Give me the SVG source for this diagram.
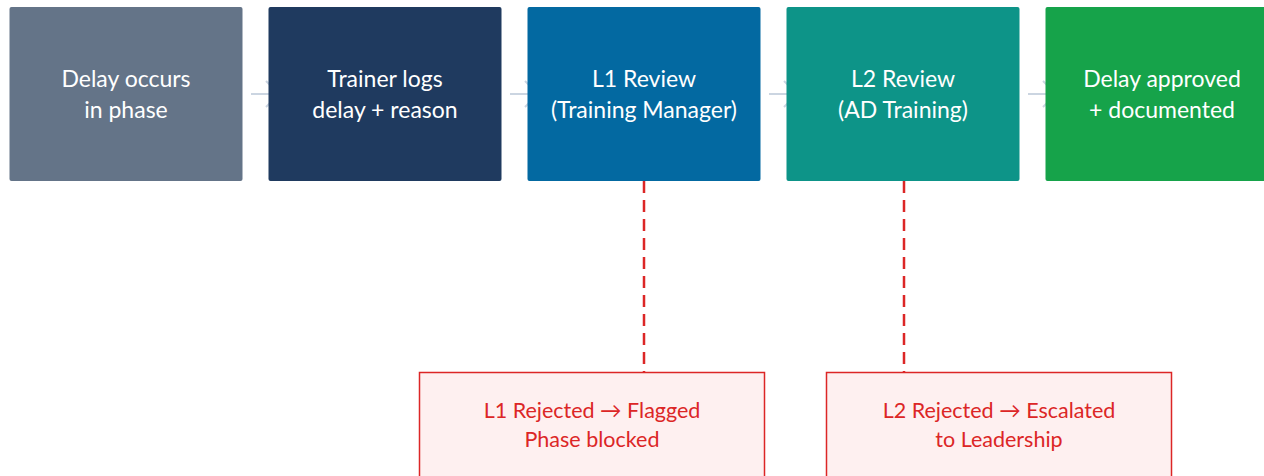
<svg xmlns="http://www.w3.org/2000/svg" width="1264" height="476" viewBox="0 0 1264 476">
<defs>
<style>
.box{stroke:none}
.t{font-family:Lato,"Noto Sans",sans-serif;font-size:23px;fill:#ffffff;text-anchor:middle}
.rt{font-family:Lato,"Noto Sans",sans-serif;font-size:21.5px;fill:#dc2626;text-anchor:middle}
.flow{stroke:#cbd5e1;stroke-width:2;fill:none}
.rej{stroke:#dc2626;stroke-width:2.5;stroke-dasharray:12 7;fill:none}
.rbox{fill:#fef0f0;stroke:#dc2626;stroke-width:1.5}
</style>
<marker id="ah" viewBox="0 0 16 30" refX="14" refY="15" markerWidth="16" markerHeight="30" markerUnits="userSpaceOnUse" orient="auto">
<path d="M1,2 L14,15 L1,28" fill="none" stroke="#cbd5e1" stroke-width="2"/>
</marker>
</defs>
<rect width="1264" height="476" fill="#ffffff"/>
<g id="connectors">
<line class="flow" x1="251" y1="94" x2="279" y2="94" marker-end="url(#ah)"/>
<line class="flow" x1="510" y1="94" x2="538" y2="94" marker-end="url(#ah)"/>
<line class="flow" x1="769" y1="94" x2="797" y2="94" marker-end="url(#ah)"/>
<line class="flow" x1="1028" y1="94" x2="1056" y2="94" marker-end="url(#ah)"/>
<line class="rej" x1="644" y1="181" x2="644" y2="372"/>
<line class="rej" x1="904" y1="181" x2="904" y2="372"/>
</g>
<g id="n1">
<rect class="box" x="9.5" y="7" width="233" height="174" rx="2" fill="#647488"/>
<text class="t" x="126" y="87">Delay occurs</text>
<text class="t" x="126" y="118">in phase</text>
</g>
<g id="n2">
<rect class="box" x="268.5" y="7" width="233" height="174" rx="2" fill="#1f3a5f"/>
<text class="t" x="385" y="87">Trainer logs</text>
<text class="t" x="385" y="118">delay + reason</text>
</g>
<g id="n3">
<rect class="box" x="527.5" y="7" width="233" height="174" rx="2" fill="#0369a1"/>
<text class="t" x="644" y="87">L1 Review</text>
<text class="t" x="644" y="118">(Training Manager)</text>
</g>
<g id="n4">
<rect class="box" x="786.5" y="7" width="233" height="174" rx="2" fill="#0d9488"/>
<text class="t" x="903" y="87">L2 Review</text>
<text class="t" x="903" y="118">(AD Training)</text>
</g>
<g id="n5">
<rect class="box" x="1045.5" y="7" width="233" height="174" rx="2" fill="#16a34a"/>
<text class="t" x="1162" y="87">Delay approved</text>
<text class="t" x="1162" y="118">+ documented</text>
</g>
<g id="r1">
<rect class="rbox" x="419.5" y="372.5" width="345" height="120"/>
<text class="rt" x="592" y="418">L1 Rejected → Flagged</text>
<text class="rt" x="592" y="447">Phase blocked</text>
</g>
<g id="r2">
<rect class="rbox" x="826.5" y="372.5" width="345" height="120"/>
<text class="rt" x="999" y="418">L2 Rejected → Escalated</text>
<text class="rt" x="999" y="447">to Leadership</text>
</g>
</svg>
